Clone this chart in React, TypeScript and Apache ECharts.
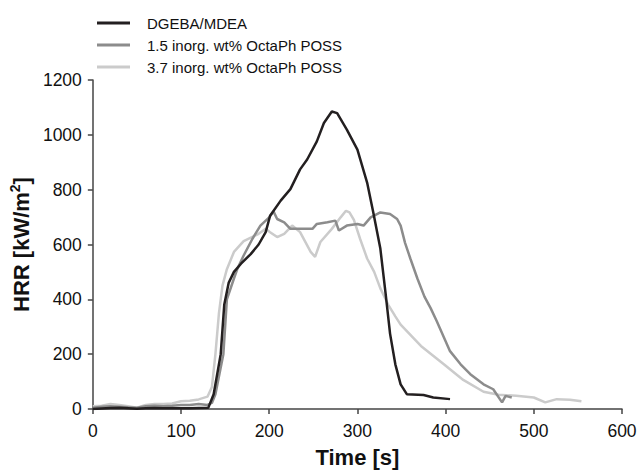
import React, { useEffect, useRef } from "react";
import * as echarts from "echarts";

const seriesNames = [
  "DGEBA/MDEA",
  "1.5 inorg. wt% OctaPh POSS",
  "3.7 inorg. wt% OctaPh POSS",
];

const xTicks = [0, 100, 200, 300, 400, 500, 600];
const yTicks = [0, 200, 400, 600, 800, 1000, 1200];

// DGEBA/MDEA
const neatTime = [0, 10, 20, 30, 40, 50, 60, 70, 80, 90, 100, 110, 120, 131, 137, 145, 149, 154, 160, 168, 179, 188, 196, 201, 213, 224, 235, 243, 254, 262, 271, 277, 288, 300, 311, 318, 326, 332, 337, 343, 349, 356, 375, 386, 405];
const neatHRR = [0, 2, 4, 5, 3, 1, 3, 4, 3, 3, 3, 3, 4, 5, 54, 200, 380, 460, 500, 530, 565, 600, 645, 705, 760, 802, 874, 910, 976, 1043, 1085, 1079, 1019, 946, 826, 717, 585, 420, 275, 163, 90, 54, 51, 42, 36];

// 1.5 inorg. wt% OctaPh POSS
const poss15Time = [0, 10, 20, 30, 40, 50, 60, 70, 80, 90, 100, 110, 120, 130, 135, 139, 148, 152, 160, 164, 171, 181, 190, 200, 205, 209, 217, 224, 235, 249, 254, 266, 275, 279, 288, 300, 307, 315, 326, 337, 345, 349, 354, 360, 368, 376, 383, 390, 405, 417, 428, 443, 454, 464, 468, 475];
const poss15HRR = [5, 8, 10, 8, 6, 5, 10, 12, 10, 12, 15, 15, 18, 15, 22, 54, 200, 400, 476, 512, 560, 621, 669, 699, 720, 693, 681, 657, 657, 657, 675, 681, 687, 651, 669, 675, 669, 699, 717, 711, 693, 669, 606, 549, 476, 410, 368, 320, 211, 163, 127, 90, 72, 24, 48, 42];

// 3.7 inorg. wt% OctaPh POSS
const poss37Time = [0, 10, 20, 30, 40, 50, 60, 70, 80, 90, 100, 110, 120, 130, 135, 139, 143, 147, 152, 160, 171, 188, 196, 201, 209, 217, 226, 235, 247, 252, 258, 271, 281, 287, 291, 296, 303, 311, 319, 326, 335, 343, 349, 372, 398, 420, 443, 460, 480, 500, 513, 526, 541, 554];
const poss37HRR = [10, 12, 18, 15, 10, 5, 15, 18, 18, 20, 28, 30, 35, 45, 80, 200, 350, 450, 510, 573, 612, 639, 657, 645, 627, 639, 669, 645, 573, 555, 609, 657, 699, 723, 717, 690, 621, 549, 500, 440, 380, 338, 308, 230, 163, 106, 63, 52, 48, 42, 24, 36, 34, 28];

const colors = ["#231f20", "#8c8c8c", "#cbcbcb"];

const zip = (t: number[], v: number[]) => t.map((x, i) => [x, v[i]]);

export default function App() {
  const ref = useRef<HTMLDivElement>(null);
  useEffect(() => {
    document.body.style.margin = "0";
    document.documentElement.style.overflow = "hidden";
    document.body.style.overflow = "hidden";
    if (!ref.current) return;
    const chart = echarts.init(ref.current, null, { renderer: "svg" });
    const font = "'Liberation Sans', Arial, Helvetica, sans-serif";
    const axisCommon = {
      type: "value" as const,
      axisLine: { show: true, lineStyle: { color: "#444", width: 1.5 } },
      axisTick: { show: true, inside: false, length: 5, lineStyle: { color: "#444", width: 1.5 } },
      splitLine: { show: false },
      axisLabel: { color: "#111", fontSize: 17.5, fontFamily: font, formatter: (v: number) => String(v) },
      nameLocation: "middle" as const,
      nameTextStyle: {
        color: "#111",
        fontSize: 22,
        fontWeight: "bold" as const,
        fontFamily: font,
        rich: {
          sup: { fontSize: 14, fontWeight: "bold", fontFamily: font, color: "#111", verticalAlign: "top", lineHeight: 26 },
        },
      },
    };
    chart.setOption({
      animation: false,
      backgroundColor: "#fff",
      grid: { left: 92, right: 20, top: 80, bottom: 61, containLabel: false },
      legend: {
        data: seriesNames,
        orient: "vertical",
        left: 92,
        top: 9,
        icon: "rect",
        itemWidth: 33,
        itemHeight: 3,
        itemGap: 4,
        textStyle: { fontSize: 15, color: "#111", fontFamily: font, padding: [0, 0, 0, 12], lineHeight: 18 },
      },
      xAxis: {
        ...axisCommon,
        min: xTicks[0],
        max: xTicks[xTicks.length - 1],
        interval: 100,
        name: "Time [s]",
        nameGap: 37,
        axisLabel: { ...axisCommon.axisLabel, margin: 13 },
      },
      yAxis: {
        ...axisCommon,
        min: yTicks[0],
        max: yTicks[yTicks.length - 1],
        interval: 200,
        name: "HRR [kW/m{sup|2}]",
        nameGap: 53,
        axisLabel: { ...axisCommon.axisLabel, margin: 11 },
      },
      series: [
        { name: seriesNames[0], data: zip(neatTime, neatHRR) },
        { name: seriesNames[1], data: zip(poss15Time, poss15HRR) },
        { name: seriesNames[2], data: zip(poss37Time, poss37HRR) },
      ].map((s, i) => ({
        ...s,
        type: "line",
        symbol: "none",
        showSymbol: false,
        color: colors[i],
        lineStyle: { color: colors[i], width: 2.5 },
        z: 3 - i,
      })),
    });
    return () => chart.dispose();
  }, []);
  return (
    <div
      ref={ref}
      style={{ position: "absolute", left: 0, top: 0, width: 642, height: 473, overflow: "hidden" }}
    />
  );
}
